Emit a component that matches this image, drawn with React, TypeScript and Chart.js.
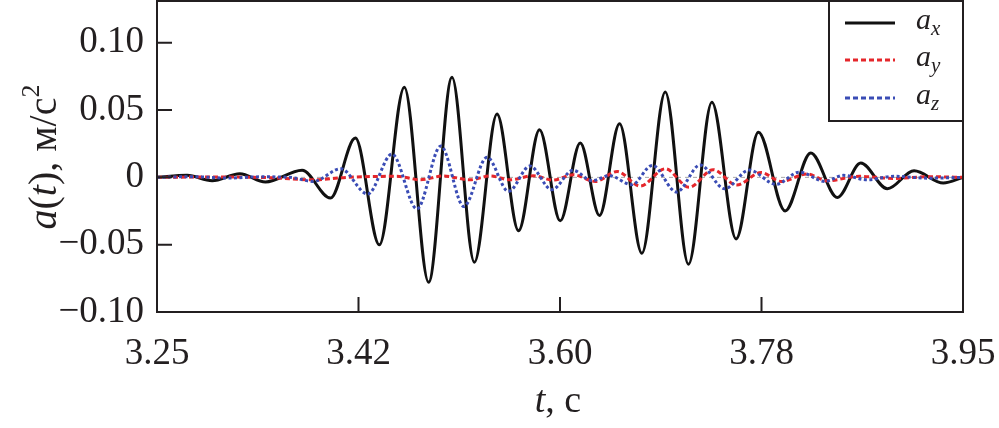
import React, { useEffect, useRef } from "react";
import { Chart, registerables } from "chart.js";

Chart.register(...registerables);

const SERIF = '"Liberation Serif", "DejaVu Serif", "Times New Roman", serif';
const INK = "#231f20";

// a_x (black solid) — extrema
const axT = [3.25, 3.2762, 3.2979, 3.3219, 3.3442, 3.376, 3.4006, 3.4223, 3.4431, 3.4648, 3.4859, 3.5062, 3.5256, 3.5453, 3.564, 3.5822, 3.6002, 3.6176, 3.6343, 3.6517, 3.6711, 3.6914, 3.7116, 3.7319, 3.753, 3.7723, 3.7955, 3.8178, 3.8409, 3.8612, 3.8843, 3.9075, 3.9329, 3.95];
const axV = [0, 0.0015, -0.0025, 0.0027, -0.0035, 0.0052, -0.0154, 0.0292, -0.0501, 0.067, -0.0779, 0.0744, -0.063, 0.0471, -0.0397, 0.0354, -0.0323, 0.0255, -0.0283, 0.0399, -0.0563, 0.0635, -0.0645, 0.0558, -0.0457, 0.0335, -0.0249, 0.0181, -0.0149, 0.0106, -0.0085, 0.0049, -0.0042, 0];

// a_y (red dashed)
const ayT = [3.25, 3.3, 3.35, 3.3861, 3.415, 3.4585, 3.4787, 3.4987, 3.5221, 3.5395, 3.5568, 3.5768, 3.5942, 3.6115, 3.6306, 3.6497, 3.6697, 3.6914, 3.7122, 3.733, 3.7534, 3.7747, 3.792, 3.8146, 3.832, 3.86, 3.89, 3.92, 3.95];
const ayV = [0, 0.0003, -0.0003, -0.0018, 0.0, 0.0008, -0.0018, 0.001, -0.0018, 0.001, -0.0018, 0.0012, -0.002, 0.0019, -0.003, 0.0043, -0.0065, 0.0064, -0.0074, 0.0057, -0.0057, 0.0036, -0.003, 0.0025, -0.0025, 0.0008, -0.0008, 0.0005, 0];

// a_z (blue dotted)
const azT = [3.25, 3.28, 3.31, 3.34, 3.365, 3.3861, 3.4095, 3.433, 3.4541, 3.4758, 3.4965, 3.5165, 3.5366, 3.5553, 3.5738, 3.593, 3.6112, 3.628, 3.6428, 3.6625, 3.6801, 3.7013, 3.7217, 3.743, 3.7643, 3.7877, 3.8077, 3.8302, 3.8459, 3.8667, 3.89, 3.92, 3.95];
const azV = [0, 0.0005, -0.0005, 0.0004, 0, -0.003, 0.0064, -0.0124, 0.0173, -0.0234, 0.0233, -0.0216, 0.0149, -0.0104, 0.0084, -0.0092, 0.0052, -0.0025, 0.0013, -0.0055, 0.0089, -0.0109, 0.0092, -0.0085, 0.0054, -0.0052, 0.0039, -0.003, 0.0015, -0.0018, 0.0008, -0.0006, 0];

const xTickValues = [3.25, 3.425, 3.6, 3.775, 3.95];
const xTickLabels = ["3.25", "3.42", "3.60", "3.78", "3.95"];
const yTickValues = [-0.1, -0.05, 0, 0.05, 0.1];
const yTickLabels = ["\u22120.10", "\u22120.05", "0", "0.05", "0.10"];

const legendItems = [
  { main: "a", sub: "x", color: "#111111", dash: [] as number[], width: 3 },
  { main: "a", sub: "y", color: "#e5262b", dash: [5, 3], width: 3 },
  { main: "a", sub: "z", color: "#3a4cb5", dash: [5, 3], width: 3 },
];

type Run = { t: string; it?: boolean; scale?: number; dy?: number };

function drawRuns(ctx: CanvasRenderingContext2D, runs: Run[], size: number, x: number, y: number) {
  const fontFor = (r: Run) => `${r.it ? "italic " : ""}${Math.round(size * (r.scale || 1))}px ${SERIF}`;
  let total = 0;
  const widths = runs.map((r) => {
    ctx.font = fontFor(r);
    const w = ctx.measureText(r.t).width;
    total += w;
    return w;
  });
  let cx = x - total / 2;
  ctx.textBaseline = "alphabetic";
  ctx.textAlign = "left";
  runs.forEach((r, i) => {
    ctx.font = fontFor(r);
    ctx.fillText(r.t, cx, y + (r.dy || 0) * size);
    cx += widths[i];
  });
}

const decorPlugin = {
  id: "decor",
  afterDraw(chart: any) {
    const { ctx, chartArea: a, scales } = chart;
    ctx.save();
    ctx.strokeStyle = INK;
    ctx.lineWidth = 2;
    ctx.setLineDash([]);
    ctx.beginPath();
    xTickValues.forEach((v) => {
      const px = scales.x.getPixelForValue(v);
      ctx.moveTo(px, a.bottom);
      ctx.lineTo(px, a.bottom - 15);
    });
    yTickValues.forEach((v) => {
      const py = scales.y.getPixelForValue(v);
      ctx.moveTo(a.left, py);
      ctx.lineTo(a.left + 15, py);
    });
    ctx.stroke();

    // legend box
    const lx = 829, ly = a.top, lw = a.right - 829, lh = 120;
    ctx.fillStyle = "#ffffff";
    ctx.fillRect(lx, ly, lw, lh);
    ctx.strokeRect(lx, ly, lw, lh);
    const rows = [23, 60, 98];
    legendItems.forEach((it, i) => {
      const yy = rows[i];
      ctx.strokeStyle = it.color;
      ctx.lineWidth = it.width;
      ctx.setLineDash(it.dash);
      ctx.beginPath();
      ctx.moveTo(845, yy);
      ctx.lineTo(895, yy);
      ctx.stroke();
      ctx.setLineDash([]);
      ctx.fillStyle = INK;
      ctx.textAlign = "left";
      ctx.textBaseline = "alphabetic";
      ctx.font = `italic 30px ${SERIF}`;
      ctx.fillText(it.main, 916, yy + 6);
      const w = ctx.measureText(it.main).width;
      ctx.font = `italic 21px ${SERIF}`;
      ctx.fillText(it.sub, 916 + w, yy + 12);
    });

    // frame
    ctx.strokeStyle = INK;
    ctx.lineWidth = 2;
    ctx.strokeRect(a.left, a.top, a.right - a.left, a.bottom - a.top);

    // axis titles
    ctx.fillStyle = INK;
    drawRuns(ctx, [{ t: "t", it: true }, { t: ", c" }], 38, 558, 412);
    ctx.save();
    ctx.translate(56, 157);
    ctx.rotate(-Math.PI / 2);
    drawRuns(
      ctx,
      [
        { t: "a", it: true },
        { t: "(" },
        { t: "t", it: true },
        { t: "), м/с" },
        { t: "2", scale: 0.65, dy: -0.42 },
      ],
      40,
      0,
      0
    );
    ctx.restore();
    ctx.restore();
  },
};

export default function App() {
  const ref = useRef<HTMLCanvasElement | null>(null);
  useEffect(() => {
    if (!ref.current) return;
    const pts = (ts: number[], vs: number[]) => ts.map((t, i) => ({ x: t, y: vs[i] }));
    const chart = new Chart(ref.current, {
      type: "line",
      data: {
        datasets: [
          {
            label: "a_z",
            data: pts(azT, azV),
            borderColor: "#3a4cb5",
            borderWidth: 3,
            borderDash: [3, 2.5],
            pointRadius: 0,
            cubicInterpolationMode: "monotone",
            fill: false,
          },
          {
            label: "a_y",
            data: pts(ayT, ayV),
            borderColor: "#e5262b",
            borderWidth: 3,
            borderDash: [5, 3],
            pointRadius: 0,
            cubicInterpolationMode: "monotone",
            fill: false,
          },
          {
            label: "a_x",
            data: pts(axT, axV),
            borderColor: "#111111",
            borderWidth: 3,
            pointRadius: 0,
            cubicInterpolationMode: "monotone",
            fill: false,
          },
          {
            label: "zero",
            data: [
              { x: 3.25, y: 0 },
              { x: 3.95, y: 0 },
            ],
            borderColor: "#a8a8a8",
            borderWidth: 1,
            borderDash: [4, 4],
            pointRadius: 0,
            fill: false,
          },
        ],
      },
      options: {
        animation: false,
        responsive: false,
        devicePixelRatio: 1,
        layout: { padding: { top: 1, right: 36, left: 0, bottom: 0 } },
        plugins: { legend: { display: false }, tooltip: { enabled: false } },
        scales: {
          x: {
            type: "linear",
            min: 3.25,
            max: 3.95,
            afterBuildTicks: (s: any) => {
              s.ticks = xTickValues.map((v) => ({ value: v }));
            },
            afterFit: (s: any) => {
              s.height = 116;
              s.paddingLeft = 0;
              s.paddingRight = 0;
              s.paddingTop = 0;
              s.paddingBottom = 0;
            },
            ticks: {
              callback: (_v: any, i: number) => xTickLabels[i],
              font: { family: SERIF, size: 37 },
              color: INK,
              padding: 20,
              maxRotation: 0,
              autoSkip: false,
            },
            grid: { display: false, drawTicks: false },
            border: { display: false },
          },
          y: {
            type: "linear",
            min: -0.1,
            max: 0.131,
            afterBuildTicks: (s: any) => {
              s.ticks = yTickValues.map((v) => ({ value: v }));
            },
            afterFit: (s: any) => {
              s.width = 157;
              s.paddingLeft = 0;
              s.paddingRight = 0;
              s.paddingTop = 0;
              s.paddingBottom = 0;
            },
            ticks: {
              callback: (_v: any, i: number) => yTickLabels[i],
              font: { family: SERIF, size: 37 },
              color: INK,
              padding: 13,
              autoSkip: false,
            },
            grid: { display: false, drawTicks: false },
            border: { display: false },
          },
        },
      },
      plugins: [decorPlugin],
    } as any);
    return () => chart.destroy();
  }, []);
  return (
    <div style={{ position: "absolute", left: 0, top: 0, width: 999, height: 428, background: "#fff" }}>
      <canvas ref={ref} width={999} height={428} style={{ width: 999, height: 428, display: "block" }} />
    </div>
  );
}
